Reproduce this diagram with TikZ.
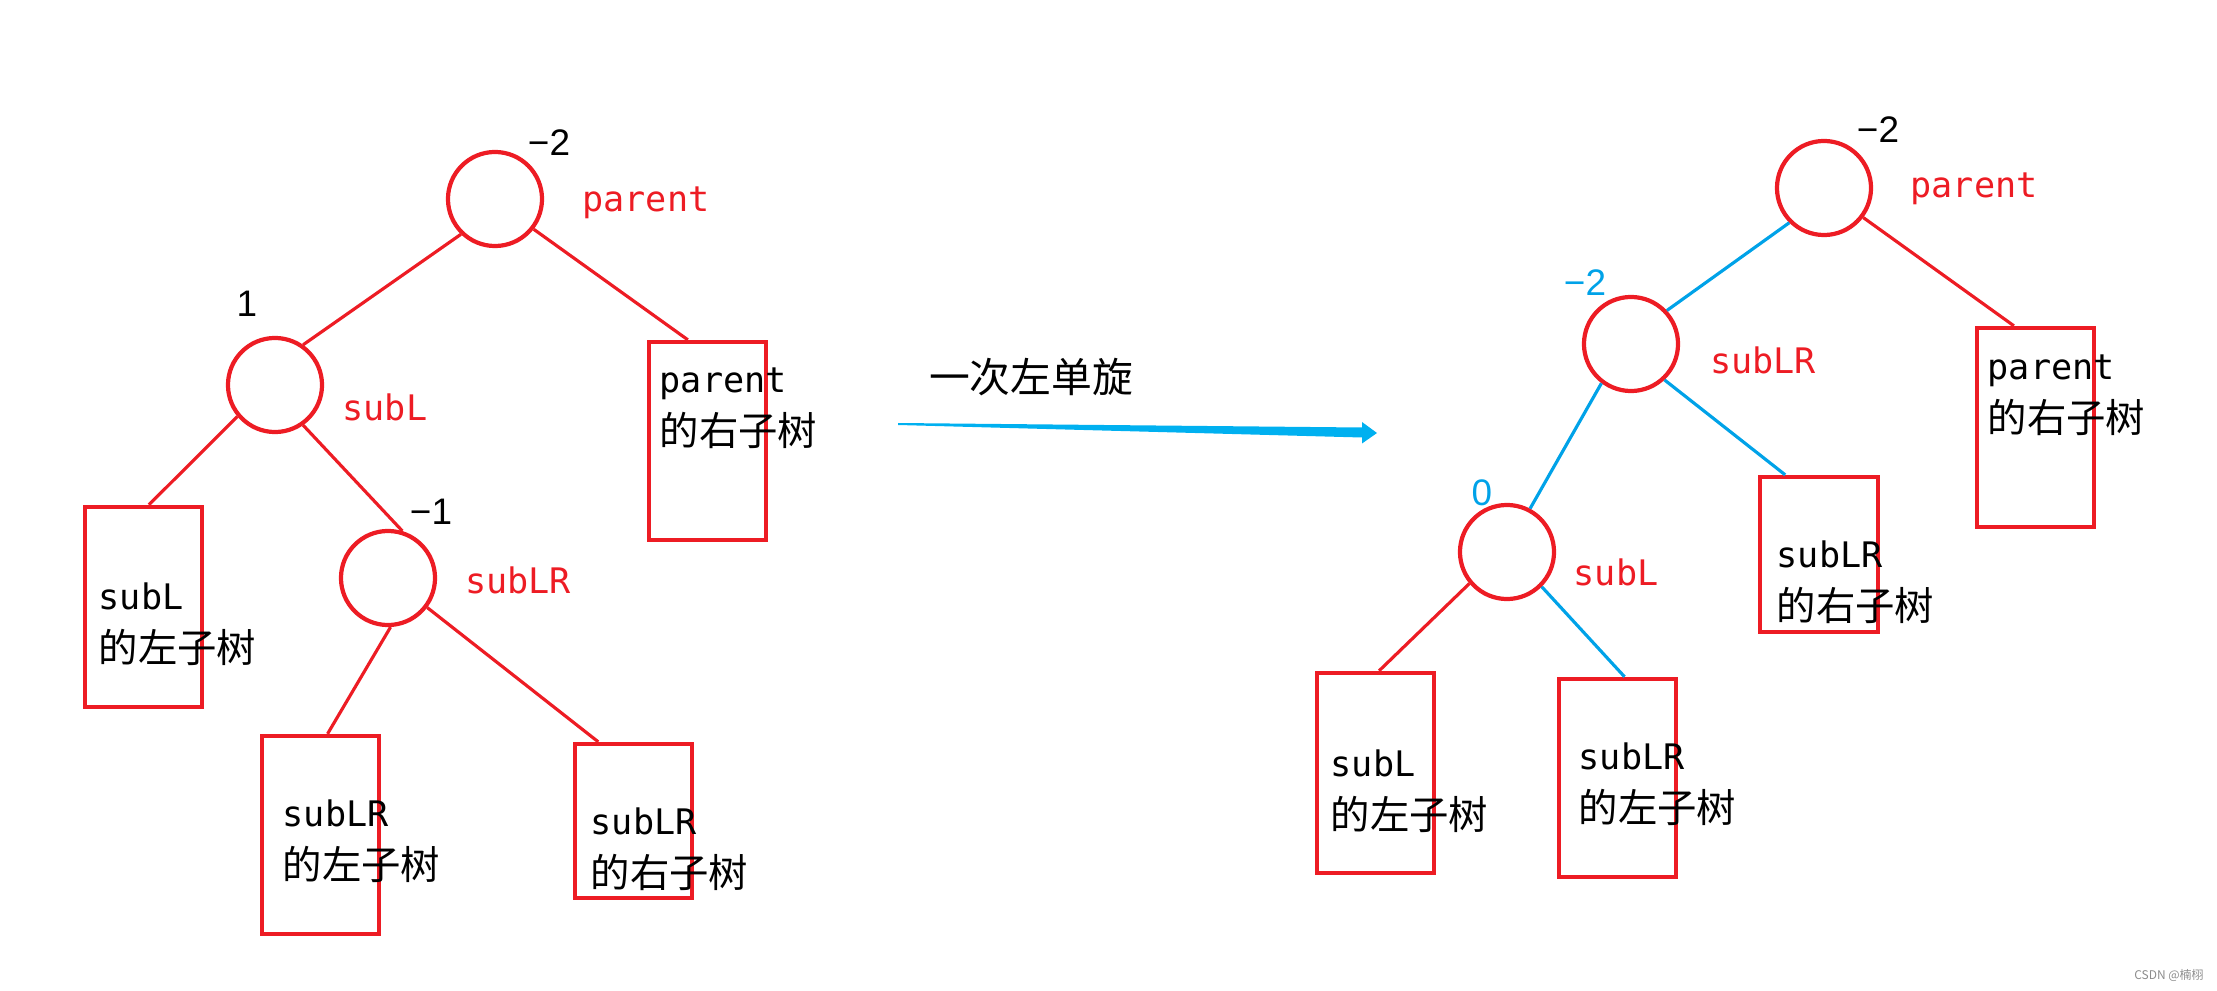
\documentclass[tikz,border=0pt]{standalone}
\usepackage{fontspec}
\usepackage{xcolor}
\usepackage{tikz}
\usetikzlibrary{positioning, calc}
\setmainfont{Liberation Sans}
\newfontfamily\cjk{Noto Sans CJK SC}
\newfontfamily\monof{DejaVu Sans Mono}
\definecolor{avlred}{RGB}{237,28,36}
\definecolor{avlblue}{RGB}{0,162,232}
\definecolor{arrowblue}{RGB}{0,176,240}
\tikzset{
  treenode/.style={circle, draw=avlred, line width=1.2pt, minimum size=0.94cm, inner sep=0pt},
  subtree/.style={rectangle, draw=avlred, line width=1.2pt, minimum width=1.17cm, inner sep=0pt},
  edgered/.style={avlred, line width=0.9pt},
  edgeblue/.style={avlblue, line width=0.9pt},
  bf/.style={font=\fontsize{10.5}{12}\selectfont},
  tag/.style={text=avlred, font=\monof\fontsize{10}{12}\selectfont},
  treetxt/.style={anchor=west, align=left, inner sep=0pt, font=\fontsize{10}{14.2}\selectfont},
}
\newcommand{\treelabel}[2]{{\monof #1}\\[1pt]{\cjk\fontsize{11.2}{12}\selectfont #2}}

\begin{document}
\begin{tikzpicture}[x=0.01cm, y=-0.01cm]
\useasboundingbox (0,0) rectangle (2217,991);

% before: left tree
\node[treenode] (p) at (495,199) {};
\node[treenode] (sl) at (275,385) {};
\node[treenode] (slr) at (388,578) {};
\node[subtree, minimum height=1.98cm] (pR) at (707.5,441) {};
\node[subtree, minimum height=2.00cm] (slL) at (143.5,607) {};
\node[subtree, minimum height=1.98cm] (slrL) at (320.5,835) {};
\node[subtree, minimum height=1.54cm] (slrR) at (633.5,821) {};

\node[bf] (bp) at (549,143) {−2};
\node[tag] (np) at (646,203) {parent};
\node[bf] (bsl) at (247,304) {1};
\node[tag] (nsl) at (385,407) {subL};
\node[bf] (bslr) at (431,512) {−1};
\node[tag] (nslr) at (518,580) {subLR};

\node[treetxt] (tpR) at (659,408) {\treelabel{parent}{的右子树}};
\node[treetxt] (tslL) at (98,624) {\treelabel{subL}{的左子树}};
\node[treetxt] (tslrL) at (282,841) {\treelabel{subLR}{的左子树}};
\node[treetxt] (tslrR) at (590,849) {\treelabel{subLR}{的右子树}};

\draw[edgered] (p.226) -- (sl.55);
\draw[edgered] (p.-38) -- (pR.101);
\draw[edgered] (sl.220) -- (slL.87);
\draw[edgered] (sl.-55) -- (slr.73);
\draw[edgered] (slr.-87) -- (slrL.86);
\draw[edgered] (slr.-37) -- (slrR.114);

% rotation arrow
\node[font=\cjk\fontsize{11.6}{12}\selectfont] (rot) at (1031,377) {一次左单旋};
\coordinate (rotS) at (898,423);
\coordinate (rotE) at (1377,433);
\fill[arrowblue] (rotS) -- ($(rotE)+(-15,-5.5)$) -- ($(rotE)+(-15,-11)$) -- (rotE)
  -- ($(rotE)+(-15,10.5)$) -- ($(rotE)+(-15,4.5)$) -- ($(rotS)+(0,2)$) -- cycle;

% after: right tree
\node[treenode] (q) at (1824,188) {};
\node[treenode] (qlr) at (1631,344) {};
\node[treenode] (ql) at (1507,552) {};
\node[subtree, minimum height=1.99cm] (qR) at (2035.5,427.5) {};
\node[subtree, minimum height=1.55cm, minimum width=1.18cm] (qlrR) at (1819,554.5) {};
\node[subtree, minimum height=2.00cm] (qlL) at (1375.5,773) {};
\node[subtree, minimum height=1.98cm] (qlrL) at (1617.5,778) {};

\node[bf] (bq) at (1878,130) {−2};
\node[tag] (nq) at (1974,189) {parent};
\node[bf, text=avlblue] (bqlr) at (1585,283) {−2};
\node[tag] (nqlr) at (1763,360) {subLR};
\node[bf, text=avlblue] (bql) at (1482,493) {0};
\node[tag] (nql) at (1616,572) {subL};

\node[treetxt] (tqR) at (1987,395) {\treelabel{parent}{的右子树}};
\node[treetxt] (tqlrR) at (1776,582) {\treelabel{subLR}{的右子树}};
\node[treetxt] (tqlL) at (1330,791) {\treelabel{subL}{的左子树}};
\node[treetxt] (tqlrL) at (1578,784) {\treelabel{subLR}{的左子树}};

\draw[edgeblue] (q.225) -- (qlr.43);
\draw[edgered] (q.-37) -- (qR.102);
\draw[edgeblue] (qlr.-47) -- (qlrR.113);
\draw[edgeblue] (qlr.233) -- (ql.62);
\draw[edgered] (ql.220) -- (qlL.88);
\draw[edgeblue] (ql.-45) -- (qlrL.86);

\node[text=black!45, font=\cjk\fontsize{3.4}{4}\selectfont] (mark) at (2169,976) {CSDN @楠栩};
\end{tikzpicture}
\end{document}
